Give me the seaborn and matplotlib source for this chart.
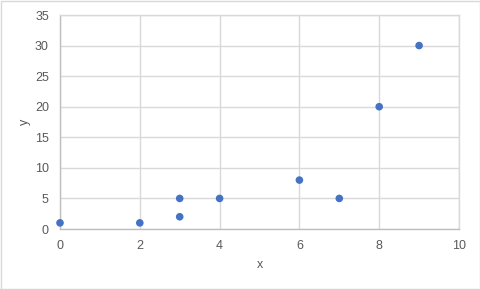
import matplotlib
matplotlib.use("Agg")
import matplotlib.pyplot as plt
import seaborn as sns
import pandas as pd
from matplotlib.patches import Rectangle

x_vals = [0, 2, 3, 3, 4, 6, 7, 8, 9]
y_vals = [1, 1, 5, 2, 5, 8, 5, 20, 30]
x_ticks = [0, 2, 4, 6, 8, 10]
y_ticks = [0, 5, 10, 15, 20, 25, 30, 35]

sns.set_style("white")
plt.rcParams['font.family'] = ['Liberation Sans', 'DejaVu Sans']

df = pd.DataFrame({"x": x_vals, "y": y_vals})

fig = plt.figure(figsize=(4.8, 2.89), dpi=100)
ax = fig.add_axes([60/480, 1-229/289, (459-60)/480, (229-15)/289])

sns.scatterplot(data=df, x="x", y="y", ax=ax, color="#4472C4", s=30,
                edgecolor="none", zorder=3, clip_on=False)

ax.set_xlim(0, 10)
ax.set_ylim(0, 35)
ax.set_xticks(x_ticks)
ax.set_yticks(y_ticks)
ax.grid(True, color="#D9D9D9", linewidth=1)
ax.set_axisbelow(True)
for side in ["top", "right"]:
    ax.spines[side].set_color("#D9D9D9")
for side in ["left", "bottom"]:
    ax.spines[side].set_color("#BFBFBF")
for sp in ax.spines.values():
    sp.set_linewidth(1)
ax.tick_params(axis="both", length=0, labelsize=9, labelcolor="#595959", pad=8)
ax.set_xlabel("x", fontsize=9, color="#595959", labelpad=5)
ax.set_ylabel("y", fontsize=9, color="#595959", labelpad=3)

fig.patches.append(Rectangle((0.5/480, 0.5/289), 1-1/480, 1-1/289, transform=fig.transFigure,
                             fill=False, edgecolor="#D9D9D9", linewidth=1))

fig.savefig("out.png", dpi=100)
